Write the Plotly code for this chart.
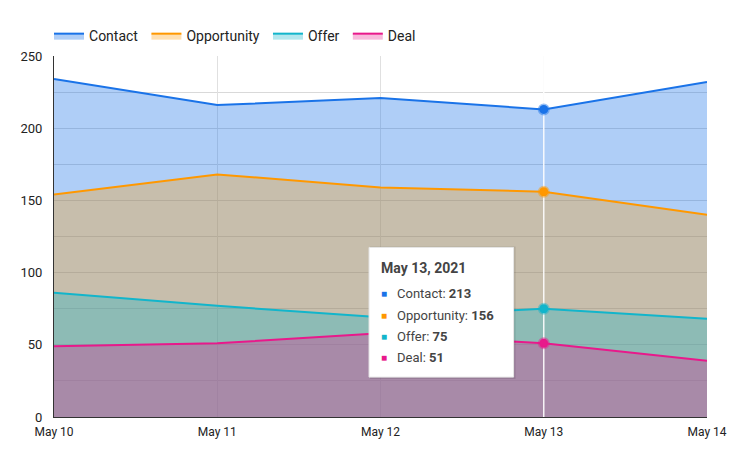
import plotly.graph_objects as go

dates = ["May 10", "May 11", "May 12", "May 13", "May 14"]
contact = [234, 216, 221, 213, 232]
opportunity = [154, 168, 159, 156, 140]
offer = [86, 77, 69, 75, 68]
deal = [49, 51, 58, 51, 39]

names = ["Contact", "Opportunity", "Offer", "Deal"]
series = [contact, opportunity, offer, deal]
line_colors = ["#1a73e8", "#ff9800", "#12b5cb", "#e8198b"]
fill_colors = ["rgba(26,115,232,0.35)", "rgba(255,152,0,0.30)",
               "rgba(18,181,203,0.32)", "rgba(232,25,139,0.30)"]
halo_colors = ["rgba(26,115,232,0.45)", "rgba(255,152,0,0.45)",
               "rgba(18,181,203,0.45)", "rgba(232,25,139,0.45)"]
hover_idx = 3
tooltip_title = "May 13, 2021"

FONT = "Roboto, Arial, sans-serif"
OFF = 8  # page body margin offset

fig = go.Figure()
for name, ys, lc, fc in zip(names, series, line_colors, fill_colors):
    fig.add_trace(go.Scatter(
        x=dates, y=ys, name=name + "\u00a0", mode="lines", fill="tozeroy",
        line=dict(color=lc, width=2), fillcolor=fc, hoverinfo="skip"))

# hover spike line
fig.add_trace(go.Scatter(
    x=[dates[hover_idx], dates[hover_idx]], y=[0, 250], mode="lines",
    line=dict(color="rgba(255,255,255,0.9)", width=1.5),
    showlegend=False, hoverinfo="skip"))

for name, ys, lc, hc in zip(names, series, line_colors, halo_colors):
    fig.add_trace(go.Scatter(
        x=[dates[hover_idx]], y=[ys[hover_idx]], mode="markers",
        marker=dict(color=lc, size=9, line=dict(color=hc, width=3)),
        showlegend=False, hoverinfo="skip"))

# layout in target (screen) pixel coordinates
PL, PR, PT, PB = 52, 707, 55, 417
FW, FH = 740 - OFF, 470 - OFF
L, T = PL - OFF, PT - OFF
R, B = FW - (PR - OFF), FH - (PB - OFF)
W, H = PR - PL, PB - PT

def px(x):
    return (x - PL) / W
def py(y):
    return (PB - y) / H

shapes = [
    dict(type="rect", xref="paper", yref="paper",
         x0=px(369), x1=px(515), y0=py(379), y1=py(246),
         fillcolor="rgba(0,0,0,0.10)", line=dict(width=0), layer="above"),
    dict(type="rect", xref="paper", yref="paper",
         x0=px(368), x1=px(513), y0=py(377), y1=py(247),
         fillcolor="white", line=dict(color="#e6e6e6", width=1), layer="above"),
]
annotations = [dict(
    xref="paper", yref="paper", x=px(378), y=py(268), xanchor="left", yanchor="middle",
    text=f"<b>{tooltip_title}</b>", showarrow=False,
    font=dict(family=FONT, size=14, color="#444444"))]
row_y = [293, 315, 336, 357]
for name, ys, lc, ry in zip(names, series, line_colors, row_y):
    annotations.append(dict(
        xref="paper", yref="paper", x=px(378), y=py(ry), xanchor="left", yanchor="middle",
        text="■", showarrow=False, font=dict(family=FONT, size=10, color=lc)))
    annotations.append(dict(
        xref="paper", yref="paper", x=px(394), y=py(ry), xanchor="left", yanchor="middle",
        text=f"{name}: <b>{ys[hover_idx]}</b>", showarrow=False,
        font=dict(family=FONT, size=13, color="#444444")))

fig.update_layout(
    width=FW, height=FH,
    margin=dict(l=L, r=R, t=T, b=B),
    paper_bgcolor="white", plot_bgcolor="white",
    font=dict(family=FONT, size=12, color="#333333"),
    showlegend=True,
    legend=dict(orientation="h", x=px(47), xanchor="left", y=py(35), yanchor="middle",
                font=dict(family=FONT, size=14, color="#222222"),
                bgcolor="rgba(0,0,0,0)"),
    shapes=shapes, annotations=annotations,
    xaxis=dict(type="category", range=[0, len(dates) - 1], showgrid=True,
               gridcolor="#e0e0e0", gridwidth=1, showline=True, linecolor="#333333",
               linewidth=1, ticks="", tickfont=dict(size=12, color="#222222"),
               ticklabelstandoff=4, zeroline=False, fixedrange=True),
    yaxis=dict(range=[0, 250], dtick=50, showgrid=True, gridcolor="#d9d9d9",
               minor=dict(dtick=25, showgrid=True, gridcolor="#d9d9d9"),
               showline=True, linecolor="#333333", linewidth=1, ticks="",
               tickfont=dict(size=13, color="#222222"), ticklabelstandoff=8,
               zeroline=False, fixedrange=True),
)

fig.write_html("out.html")
